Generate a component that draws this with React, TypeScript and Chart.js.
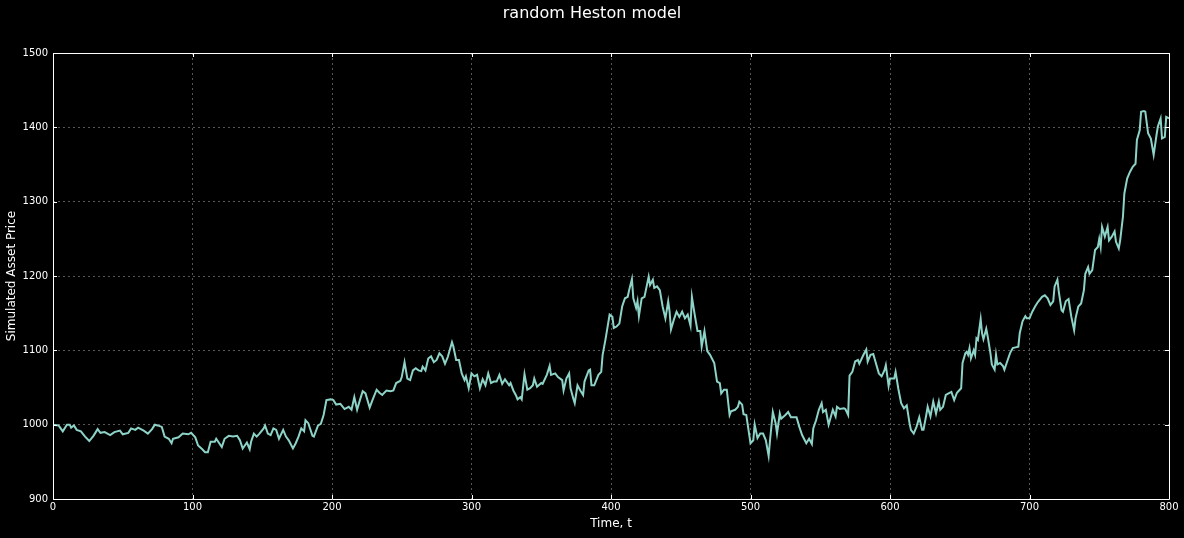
import { useEffect, useRef } from "react";
import { Chart, registerables } from "chart.js";

Chart.register(...registerables);

const TITLE = "random Heston model";
const X_LABEL = "Time, t";
const Y_LABEL = "Simulated Asset Price";
const X_MIN = 0;
const X_MAX = 800;
const X_STEP = 100;
const Y_MIN = 900;
const Y_MAX = 1500;
const Y_STEP = 100;

const timeSteps = [
  0, 4, 7, 10, 12, 13, 15, 17, 20, 23, 26, 29, 32, 34, 37, 41, 44, 48, 50, 54,
  56, 59, 61, 65, 68, 71, 73, 75, 78, 80, 83, 85, 86, 90, 93, 97, 99, 102, 104, 107,
  109, 111, 113, 116, 117, 121, 123, 126, 129, 132, 134, 136, 139, 141, 142, 144, 146, 148, 151, 152,
  154, 156, 158, 160, 162, 165, 167, 169, 172, 174, 176, 178, 180, 181, 183, 186, 187, 190, 192, 194,
  196, 199, 201, 203, 206, 209, 212, 214, 216, 218, 220, 222, 224, 227, 229, 232, 234, 236, 239, 242,
  244, 246, 249, 250, 252, 254, 256, 258, 260, 262, 264, 265, 267, 269, 271, 273, 275, 277, 279, 281,
  283, 286, 287, 289, 291, 293, 295, 296, 298, 300, 302, 304, 306, 308, 310, 312, 314, 316, 318, 320,
  322, 324, 327, 328, 330, 332, 333, 335, 336, 338, 340, 342, 344, 345, 347, 350, 351, 354, 356, 357,
  360, 362, 365, 366, 368, 370, 371, 373, 374, 376, 378, 380, 381, 384, 385, 386, 388, 391, 393, 394,
  396, 399, 401, 402, 404, 406, 408, 410, 412, 413, 415, 416, 418, 419, 420, 422, 424, 425, 427, 428,
  430, 431, 433, 435, 437, 439, 441, 442, 443, 445, 447, 449, 451, 453, 455, 457, 458, 460, 462, 464,
  465, 467, 469, 471, 474, 476, 478, 479, 481, 483, 485, 486, 489, 491, 492, 494, 495, 497, 498, 500,
  502, 503, 505, 507, 509, 511, 513, 514, 516, 518, 519, 521, 522, 525, 527, 529, 531, 533, 535, 537,
  540, 542, 544, 545, 547, 549, 551, 552, 554, 556, 559, 561, 562, 564, 567, 568, 570, 571, 573, 575,
  577, 578, 581, 583, 584, 586, 588, 590, 592, 594, 596, 597, 599, 600, 603, 604, 606, 608, 610, 612,
  614, 615, 617, 619, 621, 623, 624, 626, 627, 629, 631, 633, 635, 636, 638, 640, 642, 644, 646, 648,
  651, 652, 654, 655, 656, 657, 658, 660, 661, 662, 663, 665, 666, 667, 669, 670, 672, 673, 675, 676,
  677, 679, 681, 682, 684, 686, 688, 690, 692, 693, 695, 697, 698, 700, 702, 704, 706, 709, 711, 713,
  715, 717, 718, 720, 721, 723, 724, 726, 728, 730, 732, 733, 735, 737, 739, 740, 742, 743, 745, 747,
  749, 750, 751, 752, 754, 756, 757, 759, 761, 762, 764, 765, 767, 768, 770, 772, 774, 776, 777, 779,
  780, 782, 783, 785, 787, 789, 791, 792, 794, 795, 797, 798, 800,
];

const assetPrice = [
  1000, 999, 991, 1000, 1000, 996, 999, 993, 991, 984, 978, 985, 994, 989, 990, 986, 990, 992, 987, 989,
  995, 993, 996, 992, 988, 994, 1000, 999, 997, 984, 981, 975, 981, 983, 988, 987, 989, 983, 972, 967,
  963, 963, 977, 977, 981, 970, 981, 985, 984, 985, 979, 968, 976, 967, 977, 988, 984, 988, 995, 999,
  988, 986, 995, 993, 981, 993, 984, 979, 968, 975, 984, 995, 991, 1006, 1002, 985, 984, 999, 1001, 1013,
  1033, 1034, 1033, 1027, 1028, 1021, 1024, 1020, 1037, 1020, 1033, 1045, 1042, 1023, 1033, 1047, 1043, 1040, 1046, 1045,
  1046, 1056, 1059, 1064, 1084, 1062, 1060, 1073, 1076, 1073, 1072, 1078, 1073, 1089, 1092, 1084, 1087, 1096, 1092, 1082,
  1091, 1111, 1105, 1087, 1087, 1069, 1060, 1065, 1049, 1069, 1065, 1067, 1049, 1061, 1053, 1069, 1056, 1058, 1058, 1067,
  1055, 1061, 1053, 1056, 1046, 1039, 1034, 1037, 1034, 1068, 1047, 1049, 1053, 1062, 1051, 1056, 1055, 1067, 1079, 1067,
  1069, 1064, 1060, 1046, 1062, 1069, 1049, 1035, 1029, 1053, 1046, 1040, 1058, 1073, 1074, 1053, 1053, 1067, 1071, 1094,
  1114, 1148, 1145, 1130, 1132, 1136, 1159, 1170, 1172, 1181, 1196, 1170, 1157, 1166, 1146, 1170, 1172, 1181, 1199, 1188,
  1195, 1184, 1186, 1181, 1159, 1143, 1166, 1152, 1128, 1141, 1152, 1145, 1152, 1143, 1148, 1133, 1172, 1148, 1126, 1126,
  1105, 1126, 1099, 1094, 1083, 1058, 1056, 1042, 1047, 1047, 1013, 1018, 1020, 1024, 1031, 1027, 1014, 1013, 1000, 975,
  979, 1000, 982, 988, 988, 979, 958, 979, 1017, 1002, 988, 1015, 1008, 1013, 1017, 1010, 1010, 1010, 997, 986,
  975, 981, 974, 995, 1006, 1020, 1029, 1017, 1020, 1000, 1020, 1011, 1024, 1021, 1022, 1021, 1013, 1066, 1071, 1085,
  1087, 1082, 1094, 1101, 1085, 1094, 1095, 1082, 1069, 1065, 1073, 1080, 1052, 1062, 1062, 1071, 1048, 1029, 1022, 1026,
  1002, 993, 988, 997, 1010, 993, 993, 1013, 1024, 1011, 1031, 1015, 1031, 1020, 1024, 1040, 1042, 1044, 1033, 1043,
  1049, 1083, 1096, 1098, 1094, 1103, 1089, 1100, 1094, 1116, 1114, 1142, 1123, 1115, 1129, 1119, 1096, 1081, 1074, 1094,
  1081, 1083, 1079, 1074, 1085, 1096, 1103, 1104, 1105, 1123, 1139, 1146, 1143, 1143, 1152, 1159, 1165, 1172, 1174, 1170,
  1161, 1166, 1186, 1195, 1179, 1154, 1152, 1166, 1169, 1145, 1127, 1143, 1159, 1163, 1181, 1203, 1212, 1203, 1208, 1235,
  1239, 1250, 1239, 1266, 1253, 1266, 1248, 1253, 1260, 1246, 1237, 1248, 1280, 1311, 1331, 1340, 1347, 1351, 1383, 1396,
  1421, 1422, 1421, 1392, 1385, 1363, 1389, 1401, 1412, 1385, 1387, 1414, 1412,
];

const LINE_COLOR = "#8dd3c7";
const GRID_COLOR = "#565656";
const FONT = "'DejaVu Sans', sans-serif";

const framePlugin = {
  id: "mplFrame",
  afterDraw(chart: any) {
    const { ctx, chartArea, scales } = chart;
    const { left, right, top, bottom } = chartArea;
    const TL = 4;
    ctx.save();
    ctx.strokeStyle = "#ffffff";
    ctx.lineWidth = 1;
    ctx.beginPath();
    scales.x.ticks.forEach((t: any) => {
      const px = Math.round(scales.x.getPixelForValue(t.value)) + 0.5;
      ctx.moveTo(px, bottom);
      ctx.lineTo(px, bottom - TL);
      ctx.moveTo(px, top);
      ctx.lineTo(px, top + TL);
    });
    scales.y.ticks.forEach((t: any) => {
      const py = Math.round(scales.y.getPixelForValue(t.value)) + 0.5;
      ctx.moveTo(left, py);
      ctx.lineTo(left + TL, py);
      ctx.moveTo(right, py);
      ctx.lineTo(right - TL, py);
    });
    ctx.stroke();
    ctx.beginPath();
    ctx.moveTo(Math.round(left) + 0.5, Math.round(top) + 0.5);
    ctx.lineTo(Math.round(right) + 0.5, Math.round(top) + 0.5);
    ctx.lineTo(Math.round(right) + 0.5, Math.round(bottom) + 0.5);
    ctx.lineTo(Math.round(left) + 0.5, Math.round(bottom) + 0.5);
    ctx.closePath();
    ctx.stroke();
    ctx.restore();
  },
};

export default function App() {
  const canvasRef = useRef<HTMLCanvasElement | null>(null);

  useEffect(() => {
    document.body.style.margin = "0";
    document.body.style.background = "#000";
    const canvas = canvasRef.current;
    if (!canvas) return;
    const points = timeSteps.map((t, i) => ({ x: t, y: assetPrice[i] }));
    const chart = new Chart(canvas, {
      type: "line",
      data: {
        datasets: [
          {
            label: "Simulated Asset Price",
            data: points,
            borderColor: LINE_COLOR,
            backgroundColor: LINE_COLOR,
            borderWidth: 2,
            pointRadius: 0,
            tension: 0,
            fill: false,
          },
        ],
      },
      options: {
        animation: false,
        responsive: false,
        devicePixelRatio: 1,
        layout: { padding: 0 },
        plugins: {
          legend: { display: false },
          tooltip: { enabled: false },
          title: {
            display: true,
            text: TITLE,
            color: "#ffffff",
            font: { family: FONT, size: 16, weight: "normal" },
            padding: { top: 4.2, bottom: 29.6 },
          },
        },
        scales: {
          x: {
            type: "linear",
            min: X_MIN,
            max: X_MAX,
            afterFit: (s: any) => {
              s.height = 39;
              s.paddingLeft = 0;
              s.paddingRight = 15;
            },
            ticks: {
              stepSize: X_STEP,
              color: "#ffffff",
              padding: 2,
              maxRotation: 0,
              font: { family: FONT, size: 10 },
              callback: (v: any) => String(v),
            },
            grid: {
              color: GRID_COLOR,
              lineWidth: 1,
              drawTicks: false,
            },
            border: { display: false, dash: [2, 3] },
            title: {
              display: true,
              text: X_LABEL,
              color: "#ffffff",
              font: { family: FONT, size: 12 },
              padding: { top: 0, bottom: 6.9 },
            },
          },
          y: {
            type: "linear",
            min: Y_MIN,
            max: Y_MAX,
            afterFit: (s: any) => {
              s.width = 53;
              s.paddingTop = 0;
              s.paddingBottom = 0;
            },
            ticks: {
              stepSize: Y_STEP,
              color: "#ffffff",
              padding: 5,
              font: { family: FONT, size: 10 },
              callback: (v: any) => String(v),
            },
            grid: {
              color: GRID_COLOR,
              lineWidth: 1,
              drawTicks: false,
            },
            border: { display: false, dash: [2, 3] },
            title: {
              display: true,
              text: Y_LABEL,
              color: "#ffffff",
              font: { family: FONT, size: 12 },
              padding: { top: 4.65, bottom: 0 },
            },
          },
        },
      },
      plugins: [framePlugin],
    });
    return () => chart.destroy();
  }, []);

  return (
    <div
      style={{
        position: "absolute",
        left: 0,
        top: 0,
        width: 1184,
        height: 538,
        background: "#000",
      }}
    >
      <canvas ref={canvasRef} width={1184} height={538} style={{ display: "block" }} />
    </div>
  );
}
